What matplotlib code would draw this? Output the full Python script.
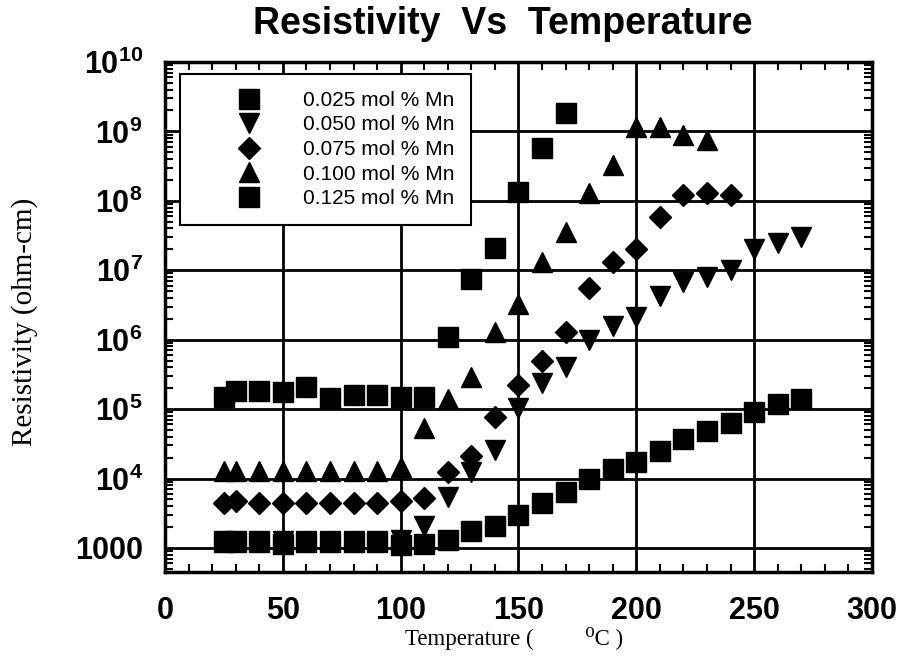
import matplotlib
matplotlib.use('Agg')
import matplotlib.pyplot as plt
from matplotlib.ticker import FixedLocator, LogLocator, NullFormatter, MultipleLocator, FixedFormatter
from matplotlib.lines import Line2D

# ---- data ----
t_025 = [25, 30, 40, 50, 60, 70, 80, 90, 100, 110, 120, 130, 140, 150, 160, 170,
         180, 190, 200, 210, 220, 230, 240, 250, 260, 270]
r_025 = [1200, 1200, 1200, 1150, 1200, 1200, 1200, 1200, 1100, 1150, 1300, 1750, 2100,
         3000, 4400, 6300, 10000, 13500, 17500, 25000, 37000, 49000, 64000, 92000,
         120000, 140000]

t_050 = [25, 30, 40, 50, 60, 70, 80, 90, 100, 110, 120, 130, 140, 150, 160, 170,
         180, 190, 200, 210, 220, 230, 240, 250, 260, 270]
r_050 = [1250, 1250, 1250, 1250, 1250, 1250, 1250, 1250, 1300, 2050, 5500, 12600, 26000,
         1.05e5, 2.4e5, 4.1e5, 1.0e6, 1.55e6, 2.1e6, 4.2e6, 6.8e6, 8.1e6, 1.0e7,
         2.0e7, 2.5e7, 3.0e7]

t_075 = [25, 30, 40, 50, 60, 70, 80, 90, 100, 110, 120, 130, 140, 150, 160, 170,
         180, 190, 200, 210, 220, 230, 240]
r_075 = [4500, 4700, 4500, 4500, 4500, 4500, 4500, 4500, 4700, 5300, 12600, 21000,
         76000, 2.2e5, 5.0e5, 1.3e6, 5.6e6, 1.3e7, 2.0e7, 5.8e7, 1.2e8, 1.3e8, 1.2e8]

t_100 = [25, 30, 40, 50, 60, 70, 80, 90, 100, 110, 120, 130, 140, 150, 160, 170,
         180, 190, 200, 210, 220, 230]
r_100 = [13000, 13000, 13000, 13000, 13000, 13000, 13000, 13000, 14800, 54000, 1.4e5,
         2.9e5, 1.3e6, 3.3e6, 1.3e7, 3.5e7, 1.3e8, 3.3e8, 1.15e9, 1.15e9, 9.0e8, 7.6e8]

t_125 = [25, 30, 40, 50, 60, 70, 80, 90, 100, 110, 120, 130, 140, 150, 160, 170]
r_125 = [1.5e5, 1.8e5, 1.85e5, 1.75e5, 2.1e5, 1.45e5, 1.6e5, 1.6e5, 1.5e5, 1.5e5,
         1.1e6, 7.6e6, 2.1e7, 1.35e8, 5.8e8, 1.85e9]

labels = ['0.025 mol % Mn', '0.050 mol % Mn', '0.075 mol % Mn',
          '0.100 mol % Mn', '0.125 mol % Mn']
x_ticks = [0, 50, 100, 150, 200, 250, 300]
y_ticks = [1e3, 1e4, 1e5, 1e6, 1e7, 1e8, 1e9, 1e10]
y_ticklabels = ['1000', r'$10^{4}$', r'$10^{5}$', r'$10^{6}$', r'$10^{7}$',
                r'$10^{8}$', r'$10^{9}$', r'$10^{10}$']

# ---- style ----
sans = ['Liberation Sans', 'DejaVu Sans']
plt.rcParams['font.family'] = sans
plt.rcParams['mathtext.fontset'] = 'custom'
plt.rcParams['mathtext.rm'] = 'Liberation Sans:bold'
plt.rcParams['mathtext.it'] = 'Liberation Sans:bold'
plt.rcParams['mathtext.bf'] = 'Liberation Sans:bold'

fig = plt.figure(figsize=(8.99, 6.59), dpi=100)
ax = fig.add_axes([0.1835, 0.132, 0.7865, 0.774])

ax.set_yscale('log')
ax.set_xlim(0, 300)
ax.set_ylim(450, 1e10)

ax.xaxis.set_major_locator(FixedLocator(x_ticks))
ax.xaxis.set_minor_locator(MultipleLocator(10))
ax.yaxis.set_major_locator(FixedLocator(y_ticks))
ax.yaxis.set_major_formatter(FixedFormatter(y_ticklabels))
ax.yaxis.set_minor_locator(LogLocator(base=10, subs=range(2, 10), numticks=20))
ax.yaxis.set_minor_formatter(NullFormatter())

ax.grid(True, which='major', color='black', linewidth=2.0, zorder=1)
ax.set_axisbelow(True)

ax.tick_params(which='major', direction='in', length=0, top=True, right=True,
               labelsize=22)
ax.tick_params(axis='x', which='major', pad=17)
ax.tick_params(axis='y', which='major', pad=16)
ax.tick_params(which='minor', direction='in', length=6, width=1.5, top=True, right=True)
for lab in ax.get_xticklabels() + ax.get_yticklabels():
    lab.set_fontweight('bold')
for sp in ax.spines.values():
    sp.set_linewidth(2.5)

ms_sq = 14
kw = dict(linestyle='none', color='black', zorder=3)
ax.plot(t_050, r_050, marker='v', markersize=14, **kw)
ax.plot(t_025, r_025, marker='s', markersize=ms_sq, **kw)
ax.plot(t_075, r_075, marker='D', markersize=11, **kw)
ax.plot(t_100, r_100, marker='^', markersize=14, **kw)
ax.plot(t_125, r_125, marker='s', markersize=ms_sq, **kw)

handles = [Line2D([], [], marker='s', markersize=ms_sq, **kw),
           Line2D([], [], marker='v', markersize=14, **kw),
           Line2D([], [], marker='D', markersize=11, **kw),
           Line2D([], [], marker='^', markersize=14, **kw),
           Line2D([], [], marker='s', markersize=ms_sq, **kw)]
leg = ax.legend(handles, labels, loc='upper left', bbox_to_anchor=(0.021, 0.976),
                borderaxespad=0, fancybox=False, edgecolor='black', framealpha=1,
                prop={'family': sans, 'size': 15}, handlelength=5.0,
                handletextpad=0.1, borderpad=0.8, labelspacing=0.27)
leg.get_frame().set_linewidth(1.5)
leg.set_zorder(5)

fig.text(0.559, 0.963, 'Resistivity  Vs  Temperature', fontsize=27,
         fontweight='bold', family=sans, ha='center', va='center')

serif = ['Liberation Serif', 'DejaVu Serif']
fig.text(25 / 899, 1 - 322 / 659, 'Resistivity (ohm-cm)', family=serif, fontsize=21,
         rotation=90, ha='center', va='center')
fig.text(405 / 899, 1 - 645 / 659, 'Temperature (         \u2070C )', family=serif,
         fontsize=16.5, ha='left', va='baseline')

fig.savefig('out.png', dpi=100)
